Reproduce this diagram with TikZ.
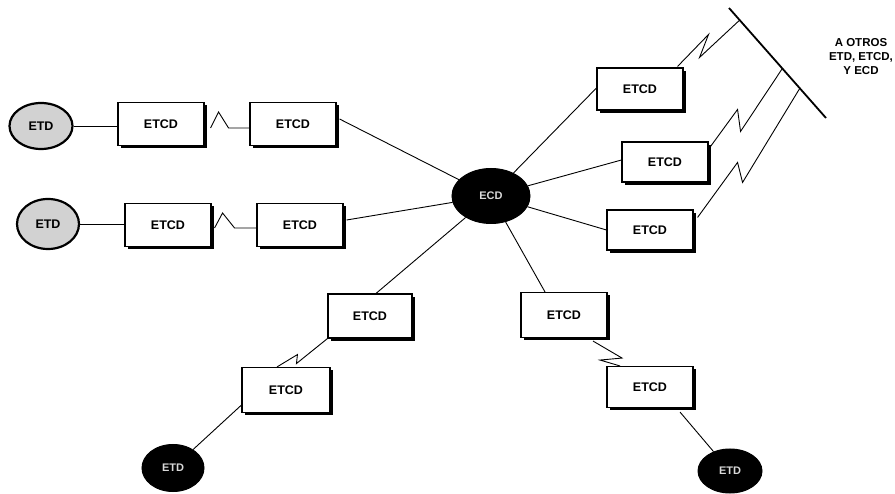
\documentclass[tikz,border=0pt]{standalone}
\usepackage{fontspec}
\newfontfamily\lab{Liberation Sans}
\usetikzlibrary{shapes.geometric,shadows,calc}
\tikzset{
  etcdbox/.style={draw, line width=1.1pt, fill=white, minimum width=86pt, minimum height=43pt, inner sep=0pt,
    font=\lab\bfseries\fontsize{12.5}{14}\selectfont,
    drop shadow={shadow xshift=3pt, shadow yshift=-3pt, fill=black, opacity=1}},
  etdlight/.style={ellipse, draw, line width=2.2pt, fill=gray!35, inner sep=0pt,
    font=\lab\bfseries\fontsize{12.5}{14}\selectfont},
  etddark/.style={ellipse, draw, line width=1pt, fill=black, text=white!85!black, inner sep=0pt,
    font=\lab\bfseries\fontsize{11}{13}\selectfont},
  conn/.style={line width=0.9pt},
  lbl/.style={font=\lab\bfseries\fontsize{11.5}{14}\selectfont, align=center}
}
\begin{document}
\begin{tikzpicture}[x=1pt,y=-1pt]
\useasboundingbox (0,0) rectangle (895,494);
% ellipses
\node[etdlight, minimum width=63pt, minimum height=46pt] (etd1) at (41,126) {ETD};
\node[etdlight, minimum width=62pt, minimum height=50pt] (etd2) at (48,224) {ETD};
\node[etddark, minimum width=78pt, minimum height=55pt] (ecd) at (491,196) {ECD};
\node[etddark, minimum width=62pt, minimum height=47pt] (etd3) at (173,468) {ETD};
\node[etddark, minimum width=64pt, minimum height=44pt] (etd4) at (730,471) {ETD};
% boxes
\node[etcdbox] (b1) at (161,124) {ETCD};
\node[etcdbox] (b2) at (293,124) {ETCD};
\node[etcdbox] (b3) at (168,225) {ETCD};
\node[etcdbox] (b4) at (300,225) {ETCD};
\node[etcdbox, minimum height=42pt] (b5) at (640,89) {ETCD};
\node[etcdbox, minimum height=40pt] (b6) at (665,162) {ETCD};
\node[etcdbox, minimum height=40pt] (b7) at (650,230) {ETCD};
\node[etcdbox, minimum width=84pt, minimum height=44pt] (b8) at (370,316) {ETCD};
\node[etcdbox, minimum width=88pt, minimum height=45pt] (b9) at (286,390) {ETCD};
\node[etcdbox, minimum height=45pt] (b10) at (564,315) {ETCD};
\node[etcdbox, minimum height=41pt] (b11) at (650,387) {ETCD};
% bracket
\coordinate (brtop) at (729,8);
\coordinate (brbot) at (826,118);
\draw[line width=1.8pt] (brtop) -- (brbot);
\coordinate (br1) at ($(brtop)!0.11!(brbot)$);
\coordinate (br2) at ($(brtop)!0.55!(brbot)$);
\coordinate (br3) at ($(brtop)!0.73!(brbot)$);
\node[lbl] (txt) at (861,57) {A OTROS\\ETD, ETCD,\\Y ECD};
% left rows
\draw[conn] (etd1) -- (b1.west |- etd1);
\draw[conn] ($(b1.east)+(6,4)$) -- ++(8,-16) -- ++(10,16) -- ($(b2.west)+(0,4)$);
\draw[conn] ($(b2.east)+(3,-5)$) -- (ecd);
\draw[conn] (etd2) -- (b3.west |- etd2);
\draw[conn] ($(b3.east)+(3,3)$) -- ++(8,-15) -- ++(12,15) -- ($(b4.west)+(0,3)$);
\draw[conn] ($(b4.east)+(3,-5)$) -- (ecd);
% right side
\draw[conn] (ecd) -- ($(b5.west)+(0,-1)$);
\draw[conn] (ecd) -- ($(b6.west)+(0,-2)$);
\draw[conn] (ecd) -- (b7.west);
\draw[conn] ($(b5.north east)+(-6,-1)$) -- ++(31,-32) -- ++(-9,23) -- (br1);
\draw[conn] ($(b6.north east)+(2,5)$) -- ++(27,-37) -- ++(3,22) -- (br2);
\draw[conn] ($(b7.north east)+(4,8)$) -- ++(40,-55) -- ++(5,20) -- (br3);
% lower left
\draw[conn] (ecd) -- ($(b8.north)+(6,0)$);
\draw[conn] ($(b8.south west)+(0,0)$) -- ++(-31,25) -- ++(1,-9) -- ($(b9.north)+(-9,0)$);
\draw[conn] ($(b9.south west)+(0,-8)$) -- (etd3);
% lower right
\draw[conn] (ecd) -- ($(b10.north)+(-19,0)$);
\draw[conn] ($(b10.south)+(29,3)$) -- ++(29,17) -- ++(-22,2) -- ($(b11.north)+(-30,0)$);
\draw[conn] ($(b11.south)+(30,4)$) -- (etd4);
\end{tikzpicture}
\end{document}
